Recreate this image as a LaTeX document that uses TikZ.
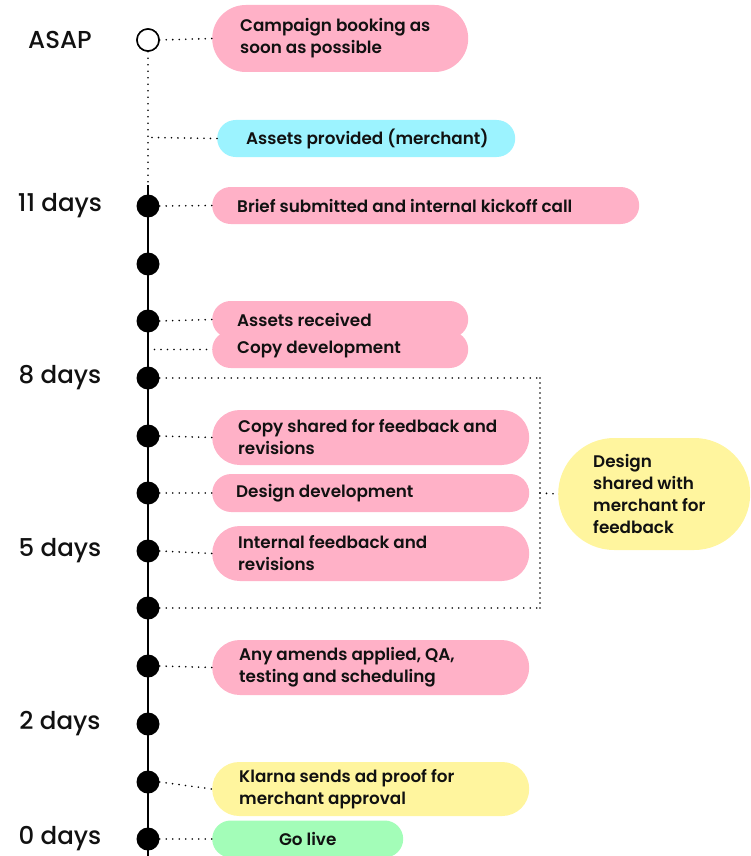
\documentclass[tikz,border=0pt]{standalone}
\usepackage{fontspec}
\setmainfont{Poppins}[UprightFont={* SemiBold}]
\newfontfamily\labelfont{Poppins}[UprightFont={* Medium}]
\definecolor{kpink}{HTML}{FFB1C7}
\definecolor{kcyan}{HTML}{9CF3FF}
\definecolor{kyellow}{HTML}{FFF59E}
\definecolor{kgreen}{HTML}{A3FDB8}
\definecolor{ink}{HTML}{111111}
\begin{document}
\begin{tikzpicture}[x=1pt,y=-1pt,
  every node/.style={text=ink},
  pill/.style={anchor=west, inner sep=0pt},
  caption/.style={anchor=west, inner sep=0pt, align=left,
    font=\fontsize{16.8}{22}\selectfont},
  daylabel/.style={font=\labelfont\fontsize{24.5}{28}\selectfont, anchor=center},
  tick/.style={circle, fill=black, minimum size=23, inner sep=0pt},
  opentick/.style={circle, draw=black, line width=1.5pt, fill=white, minimum size=22, inner sep=0pt},
  dots/.style={line width=1.8pt, dash pattern=on 0pt off 6.5pt, line cap=round},
  tightdots/.style={line width=1.8pt, dash pattern=on 0pt off 5pt, line cap=round},
  spine/.style={line width=2pt}]
\useasboundingbox (0,0) rectangle (750,856);

% time axis
\coordinate (spineTop) at (148,185);
\coordinate (spineBot) at (148,856);
\node[opentick] (dAsap) at (148,40) {};
\draw[dots] (dAsap.south) -- (spineTop);
\draw[spine] (spineTop) -- (spineBot);
\coordinate (sAssets) at (148,137.5);
\coordinate (sCopy) at (148,349.5);

\foreach \n/\y in {d11/206, dA/264, dB/321, d8/378, dC/436, dD/493, d5/551,
                   dE/608, dF/666, d2/724, dG/782, d0/839}
  \node[tick] (\n) at (148,\y) {};
\node[opentick] at (dAsap) {};

% day labels
\node[daylabel] (lAsap) at (60,40) {ASAP};
\node[daylabel] (l11) at (60,206) {11 days};
\node[daylabel] (l8) at (60,378) {8 days};
\node[daylabel] (l5) at (60,551) {5 days};
\node[daylabel] (l2) at (60,724) {2 days};
\node[daylabel] (l0) at (60,839) {0 days};

% task pills
\node[pill, fill=kpink, rounded corners=33.5, minimum width=256, minimum height=67] (b1) at (212,38.5) {};
\node[caption] (t1) at ([xshift=28]b1.west) {Campaign booking as\\soon as possible};
\node[pill, fill=kcyan, rounded corners=18.5, minimum width=298, minimum height=37] (b2) at (217,138.5) {};
\node[caption] (t2) at ([xshift=29]b2.west) {Assets provided (merchant)};
\node[pill, fill=kpink, rounded corners=18.5, minimum width=427, minimum height=37] (b3) at (212,205.5) {};
\node[caption] (t3) at ([xshift=25]b3.west) {Brief submitted and internal kickoff call};
\node[pill, fill=kpink, rounded corners=18.5, minimum width=256, minimum height=37] (b4) at (212,319.5) {};
\node[caption] (t4) at ([xshift=25]b4.west) {Assets received};
\node[pill, fill=kpink, rounded corners=18.5, minimum width=256, minimum height=37] (b5) at (212,349.5) {};
\node[caption] (t5) at ([xshift=25]b5.west) {Copy development};
\node[pill, fill=kpink, rounded corners=27.5, minimum width=317, minimum height=55] (b6) at (212,437.5) {};
\node[caption] (t6) at ([xshift=26]b6.west) {Copy shared for feedback and\\revisions};
\node[pill, fill=kpink, rounded corners=19, minimum width=317, minimum height=38] (b7) at (212,493) {};
\node[caption] (t7) at ([xshift=24]b7.west) {Design development};
\node[pill, fill=kpink, rounded corners=27.5, minimum width=317, minimum height=55] (b8) at (212,553.5) {};
\node[caption] (t8) at ([xshift=26]b8.west) {Internal feedback and\\revisions};
\node[pill, fill=kyellow, rounded corners=56, minimum width=192, minimum height=112] (b9) at (558,494) {};
\node[caption] (t9) at ([xshift=35]b9.west) {Design\\shared with\\merchant for\\feedback};
\node[pill, fill=kpink, rounded corners=27.5, minimum width=317, minimum height=55] (b10) at (212,667.5) {};
\node[caption] (t10) at ([xshift=27]b10.west) {Any amends applied, QA,\\testing and scheduling};
\node[pill, fill=kyellow, rounded corners=27, minimum width=317, minimum height=54] (b11) at (212,789) {};
\node[caption] (t11) at ([xshift=27]b11.west) {Klarna sends ad proof for\\merchant approval};
\node[pill, fill=kgreen, rounded corners=18.5, minimum width=191, minimum height=37] (b12) at (212,839) {};
\node[caption, anchor=center] (t12) at (b12.center) {Go live};

% connectors
\draw[dots] (dAsap.east) -- (b1.west);
\draw[dots] (sAssets) ++(4,0) -- (b2.west);
\draw[dots] (d11.east) -- (b3.west);
\draw[dots] (dB.east) -- (b4.west);
\draw[dots] (sCopy) -- (b5.west);
\draw[dots] (dC.east) -- (b6.west);
\draw[dots] (dD.east) -- (b7.west);
\draw[dots] (d5.east) -- (b8.west);
\draw[dots] (dF.east) -- (b10.west);
\draw[dots] (dG.east) -- (b11.west);
\draw[dots] (d0.east) -- (b12.west);

% bracket grouping the design phase
\coordinate (bk) at (540,493);
\draw[dots] (d8.east) -- (d8.east -| bk);
\draw[dots] (dE.east) -- (dE.east -| bk);
\draw[tightdots] (d8.east -| bk) -- (dE.east -| bk);
\draw[dots] (bk) -- (b9.west);
\end{tikzpicture}
\end{document}
